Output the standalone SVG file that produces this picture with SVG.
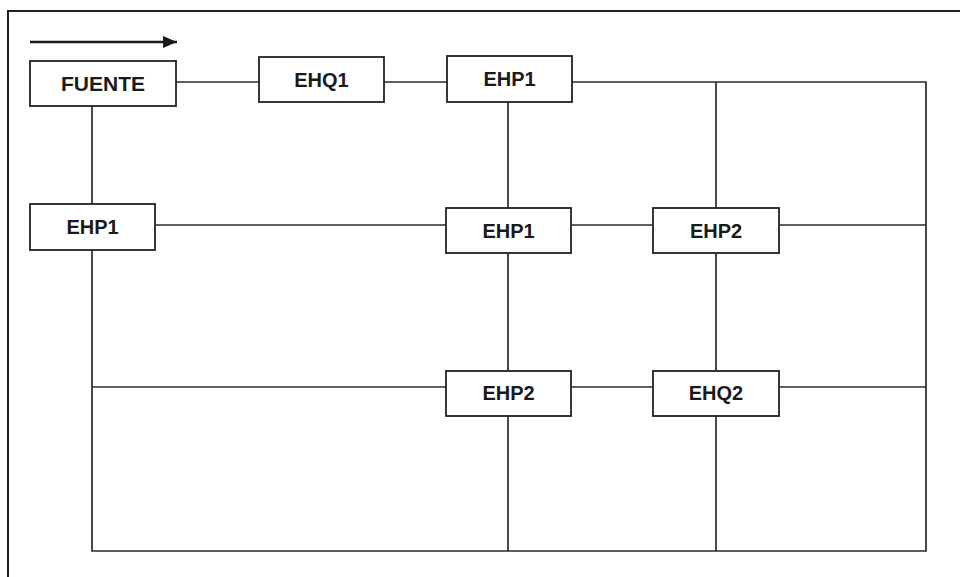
<svg xmlns="http://www.w3.org/2000/svg" width="960" height="577" viewBox="0 0 960 577">
<style>
.bg{fill:#ffffff}
.frame{fill:none;stroke:#222;stroke-width:2}
.box{fill:#ffffff;stroke:#222;stroke-width:1.8}
.ln{fill:none;stroke:#2a2a2a;stroke-width:1.7}
.t{font-family:"Liberation Sans",Arial,sans-serif;font-weight:bold;font-size:20px;fill:#1a1a1a;text-anchor:middle}
</style>
<defs>
<marker id="ah" markerWidth="14" markerHeight="12" refX="14" refY="6" orient="auto" markerUnits="userSpaceOnUse">
<path d="M0,0 L14,6 L0,12 Z" fill="#1a1a1a"/>
</marker>
</defs>
<rect class="bg" x="0" y="0" width="960" height="577"/>
<path class="frame" d="M8,590 L8,11 L970,11"/>
<line x1="30" y1="42" x2="177" y2="42" stroke="#1a1a1a" stroke-width="2.5" marker-end="url(#ah)"/>
<g id="connectors">
<path class="ln" d="M176,82 L259,82"/>
<path class="ln" d="M384,82 L447,82"/>
<path class="ln" d="M572,82 L926,82 L926,551 L92,551 L92,250"/>
<path class="ln" d="M92,106 L92,204"/>
<path class="ln" d="M155,225 L446,225"/>
<path class="ln" d="M571,225 L653,225"/>
<path class="ln" d="M779,225 L926,225"/>
<path class="ln" d="M92,387 L446,387"/>
<path class="ln" d="M571,387 L653,387"/>
<path class="ln" d="M779,387 L926,387"/>
<path class="ln" d="M508,102 L508,208"/>
<path class="ln" d="M508,253 L508,371"/>
<path class="ln" d="M508,416 L508,551"/>
<path class="ln" d="M716,82 L716,208"/>
<path class="ln" d="M716,253 L716,371"/>
<path class="ln" d="M716,416 L716,551"/>
</g>
<g id="fuente"><rect class="box" x="30" y="61" width="146" height="45"/><text class="t" x="103" y="91" style="font-size:21px">FUENTE</text></g>
<g id="ehq1"><rect class="box" x="259" y="57" width="125" height="45"/><text class="t" x="321.5" y="87">EHQ1</text></g>
<g id="ehp1-top"><rect class="box" x="447" y="56" width="125" height="46"/><text class="t" x="509.5" y="86">EHP1</text></g>
<g id="ehp1-left"><rect class="box" x="30" y="204" width="125" height="46"/><text class="t" x="92.5" y="234">EHP1</text></g>
<g id="ehp1-mid"><rect class="box" x="446" y="208" width="125" height="45"/><text class="t" x="508.5" y="238">EHP1</text></g>
<g id="ehp2-mid"><rect class="box" x="653" y="208" width="126" height="45"/><text class="t" x="716" y="238">EHP2</text></g>
<g id="ehp2-low"><rect class="box" x="446" y="371" width="125" height="45"/><text class="t" x="508.5" y="400">EHP2</text></g>
<g id="ehq2"><rect class="box" x="653" y="371" width="126" height="45"/><text class="t" x="716" y="400">EHQ2</text></g>
</svg>
